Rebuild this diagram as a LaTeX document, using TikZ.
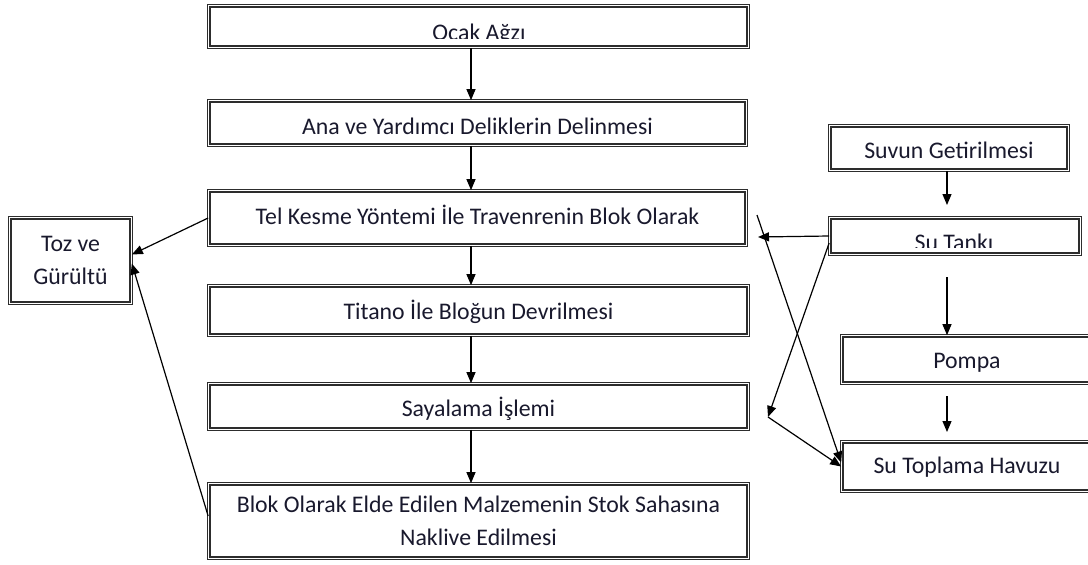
\documentclass[tikz,border=0pt]{standalone}
\usepackage{fontspec}
\setmainfont{Carlito}
\usepackage{tikz}
\usetikzlibrary{arrows.meta,calc}
\usepackage{xcolor}
\definecolor{framegray}{RGB}{45,45,45}
\definecolor{inkblue}{RGB}{25,25,45}

\begin{document}
\begin{tikzpicture}[x=1pt,y=-1pt,font=\fontsize{23.8}{33}\selectfont,text=inkblue,
  panel/.style={draw=framegray,double,double distance=1.5pt,line width=1.1pt,fill=white,inner sep=0pt},
  stage/.style={panel,text height=17pt,text depth=0pt},
  arr/.style={-{Triangle[length=11pt,width=9pt]},line width=1.2pt}]
\useasboundingbox[fill=white] (0,0) rectangle (1088,565);

% Main column
\node[panel,minimum width=539.6pt,minimum height=41.6pt] (ocak) at (478.5,26.5) {};
\node[stage,minimum width=537.6pt,minimum height=44.6pt,text height=22pt] (ana) at (477.5,123) {Ana ve Yardımcı Deliklerin Delinmesi};
\node[stage,minimum width=537.6pt,minimum height=54.6pt,text height=12pt] (tel) at (477.5,218) {Tel Kesme Yöntemi İle Travenrenin Blok Olarak};
\node[stage,minimum width=539.6pt,minimum height=49.6pt] (titano) at (478.5,310.5) {Titano İle Bloğun Devrilmesi};
\node[stage,minimum width=539.6pt,minimum height=45.6pt,text height=20pt] (sayalama) at (478.5,406.5) {Sayalama İşlemi};
\node[panel,minimum width=539.6pt,minimum height=74.6pt,align=center] (blok) at (478.5,521) {Blok Olarak Elde Edilen Malzemenin Stok Sahasına\\Naklive Edilmesi};

% Side effect
\node[panel,minimum width=121.6pt,minimum height=85.6pt,align=center] (toz) at (70.5,260.5) {Toz ve\\Gürültü};

% Water circuit
\node[stage,minimum width=238.6pt,minimum height=44.6pt,text height=20pt] (suvun) at (949,148) {Suvun Getirilmesi};
\node[panel,minimum width=250.6pt,minimum height=36.6pt] (sutanki) at (955,236) {};
\node[stage,minimum width=250.6pt,minimum height=47.6pt] (pompa) at (967,359.5) {Pompa};
\node[stage,minimum width=250.6pt,minimum height=49.6pt,text height=13pt] (havuz) at (967,466.5) {Su Toplama Havuzu};

% clipped labels
\begin{scope}
\clip (210,7) rectangle (747,38);
\node[anchor=base,inner sep=0pt] (ocaktext) at (479,40) {Ocak Ağzı};
\end{scope}
\begin{scope}
\clip (831,219) rectangle (1079,247);
\node[anchor=base,inner sep=0pt] (tanktext) at (954,250) {Su Tankı};
\end{scope}

\coordinate (axis) at (471,0);
\draw[arr] (ocak.south -| axis) -- (ana.north -| axis);
\draw[arr] (ana.south -| axis) -- (tel.north -| axis);
\draw[arr] (tel.south -| axis) -- (titano.north -| axis);
\draw[arr] (titano.south -| axis) -- (sayalama.north -| axis);
\draw[arr] (sayalama.south -| axis) -- (blok.north -| axis);

\draw[arr] (tel.west) -- ($(toz.east)+(0,-6)$);
\draw[arr] ($(blok.west)+(0,-5)$) -- ($(toz.east)+(0,3)$);

\coordinate (feed) at (947,205);
\coordinate (tankout) at (758,237);
\coordinate (pumpin) at (947,277);
\coordinate (poolin) at (947,396);
\coordinate (poolend) at (947,432);
\coordinate (cross) at (757,215);
\coordinate (bend) at (768,417);
\draw[arr] (suvun.south -| feed) -- (feed);
\draw[arr] (sutanki.west) -- (tankout);
\draw[arr] (pumpin) -- (pompa.north -| pumpin);
\draw[arr] (poolin) -- (poolend);
\draw[arr] (cross) -- ($(havuz.west)+(0,-4)$);
\draw[arr] ($(sutanki.west)+(0,7)$) -- (bend);
\draw[arr] (bend) -- (havuz.west);
\end{tikzpicture}
\end{document}
